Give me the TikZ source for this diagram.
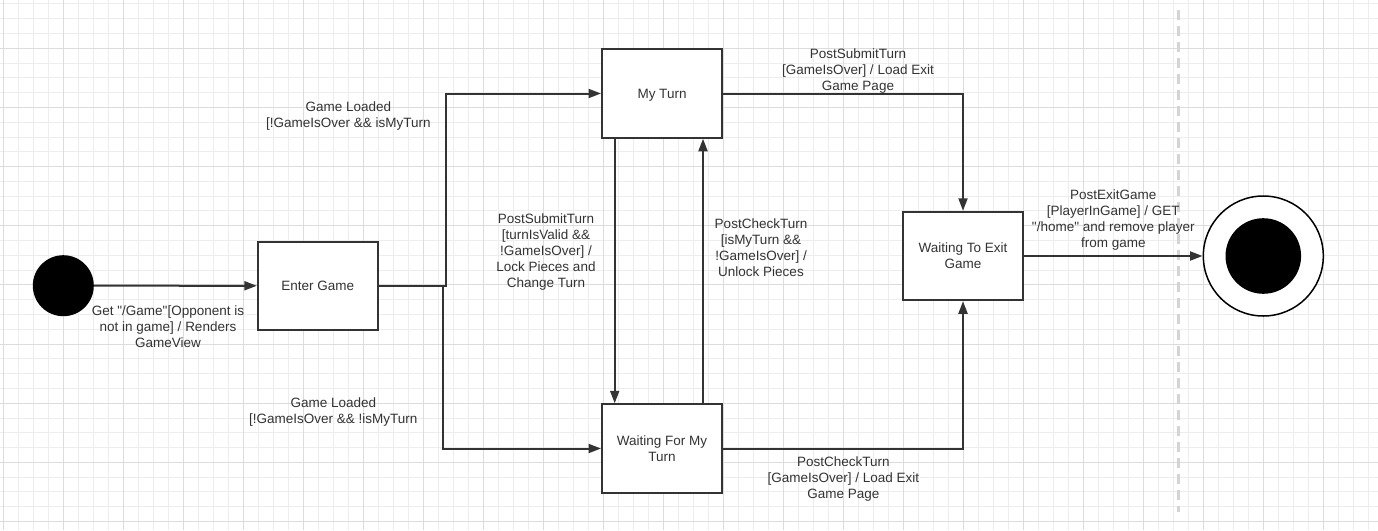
\documentclass[tikz,border=0pt]{standalone}
\usepackage{fontspec}
\setmainfont{Liberation Sans}[Ligatures=TeXOff]
\usetikzlibrary{arrows.meta}
\definecolor{ink}{HTML}{333333}
\definecolor{gridminor}{HTML}{EDEDED}
\definecolor{gridmajor}{HTML}{DCDCDC}
\definecolor{dashcol}{HTML}{D4D4D4}
\begin{document}
\begin{tikzpicture}[x=1pt,y=-1pt,
  statebox/.style={draw=ink, line width=2pt, fill=white, minimum width=120pt, minimum height=88.5pt, inner sep=0pt, align=center, font=\fontsize{13.5}{16}\selectfont, text=ink},
  lbl/.style={align=center, font=\fontsize{13.5}{16}\selectfont, text=ink, inner sep=0pt, yshift=-2pt},
  conn/.style={draw=ink, line width=2pt, -{Triangle[length=12.5pt,width=9pt]}},
  gmin/.style={draw=gridminor, line width=1pt},
  gmaj/.style={draw=gridmajor, line width=1pt}
]
\useasboundingbox (0,0) rectangle (1378,530);
\fill[white] (0,0) rectangle (1378,530);
% grid
\foreach \k in {0,...,91} \draw[gmin] ({3.3+15*\k},0) -- ({3.3+15*\k},530);
\foreach \k in {0,...,35} \draw[gmin] (0,{3.9+14.79*\k}) -- (1378,{3.9+14.79*\k});
\foreach \k in {0,...,22} \draw[gmaj] ({3.3+60*\k},0) -- ({3.3+60*\k},530);
\foreach \k in {0,...,8} \draw[gmaj] (0,{48.3+59.16*\k}) -- (1378,{48.3+59.16*\k});
% dashed separator
\coordinate (sepTop) at (1178.3,10);
\coordinate (sepBot) at (1178.3,512);
\draw[dashcol, line width=3pt, dash pattern=on 10pt off 6pt] (sepTop) -- (sepBot);

% nodes
\node[circle, fill=black, minimum size=61pt, inner sep=0pt] (init) at (63.3,285.7) {};
\node[statebox] (enter) at (317.8,285.8) {Enter Game};
\node[statebox] (my) at (662,93.5) {\raisebox{0pt}[9.7pt][0pt]{My Turn}};
\node[statebox] (wait) at (662,448.5) {Waiting For My\\Turn};
\node[statebox] (exitw) at (963,256) {Waiting To Exit\\Game};
\node[circle, draw=black, line width=1.5pt, fill=white, minimum size=120pt, inner sep=0pt] (final) at (1263.3,256) {};
\node[circle, fill=black, minimum size=75.6pt, inner sep=0pt] (finalin) at (final.center) {};

% junction coordinates
\coordinate (jup) at (445.7,285.8);
\coordinate (jlo) at (442.7,285.8);

% connectors
\draw[conn] (init) -- (enter);
\draw[conn] (enter.east) -- (jup) |- (my.west);
\draw[conn] (enter.east) -- (jlo) |- (wait.west);
\draw[conn] ([xshift=-47.3pt]my.south) -- ([xshift=-47.3pt]wait.north);
\draw[conn] ([xshift=41pt]wait.north) -- ([xshift=41pt]my.south);
\draw[conn] (my.east) -| (exitw.north);
\draw[conn] (wait.east) -| (exitw.south);
\draw[conn] (exitw.east) -- (final.west);

% labels
\node[lbl] (l1) at (168,325) {Get "/Game"[Opponent is\\not in game] / Renders\\GameView};
\node[lbl] (l2) at (348.3,114.2) {Game Loaded\\{[}!GameIsOver \&\& isMyTurn};
\node[lbl] (l3) at (333.3,410) {Game Loaded\\{[}!GameIsOver \&\& !isMyTurn};
\node[lbl] (l4) at (546,250) {PostSubmitTurn\\{[}turnIsValid \&\&\\!GameIsOver] /\\Lock Pieces and\\Change Turn};
\node[lbl] (l5) at (761,245.5) {PostCheckTurn\\{[}isMyTurn \&\&\\!GameIsOver] /\\Unlock Pieces};
\node[lbl] (l6) at (858,69.3) {PostSubmitTurn\\{[}GameIsOver] / Load Exit\\Game Page};
\node[lbl] (l7) at (843.3,476.7) {PostCheckTurn\\{[}GameIsOver] / Load Exit\\Game Page};
\node[lbl] (l8) at (1113.3,218.5) {PostExitGame\\{[}PlayerInGame] / GET\\"/home" and remove player\\from game};
\end{tikzpicture}
\end{document}
